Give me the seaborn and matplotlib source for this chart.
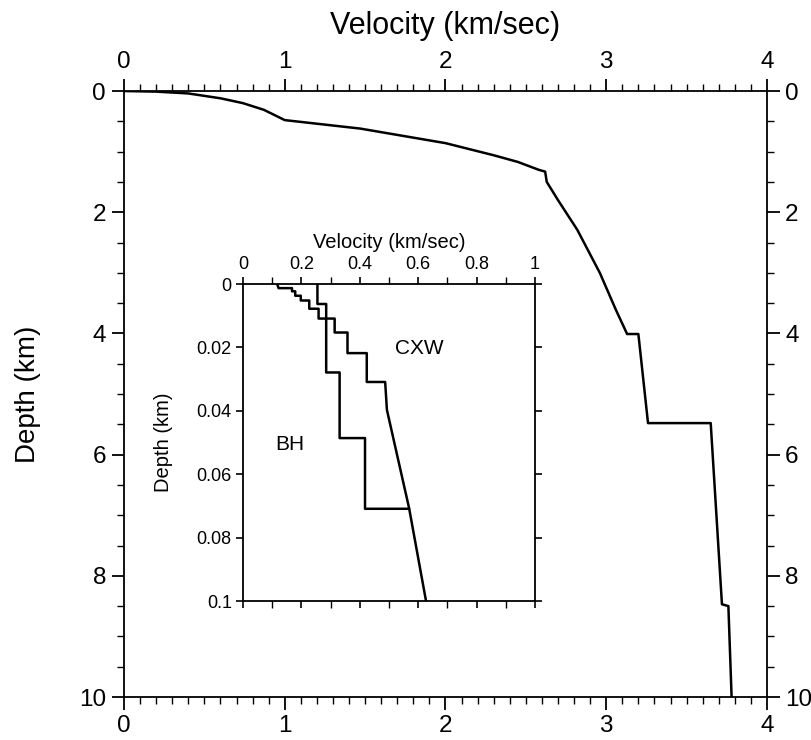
import numpy as np
import pandas as pd
import matplotlib
matplotlib.use("Agg")
import matplotlib.pyplot as plt
from matplotlib.ticker import MultipleLocator
import seaborn as sns

# main velocity profile (km/sec vs km)
main_vel = [0, 0.2, 0.4, 0.6, 0.74, 0.87, 1.0, 1.47, 2.0, 2.3, 2.45, 2.58,
            2.62, 2.63, 2.7, 2.82, 2.96, 3.06, 3.13, 3.20, 3.26, 3.65, 3.72,
            3.76, 3.78]
main_depth = [0, 0.01, 0.04, 0.12, 0.2, 0.31, 0.48, 0.62, 0.86, 1.06, 1.17,
              1.3, 1.33, 1.5, 1.8, 2.29, 3.0, 3.61, 4.01, 4.01, 5.48, 5.48,
              8.47, 8.5, 10.0]

# inset: shallow profiles
cxw_vel = [0.255, 0.255, 0.285, 0.285, 0.314, 0.314, 0.358, 0.358, 0.424,
           0.424, 0.487, 0.493, 0.569, 0.627]
cxw_depth = [0.0, 0.0063, 0.0063, 0.0109, 0.0109, 0.0153, 0.0153, 0.0218,
             0.0218, 0.0309, 0.0309, 0.0397, 0.0707, 0.1]
bh_vel = [0.117, 0.122, 0.168, 0.168, 0.179, 0.179, 0.198, 0.198, 0.227,
          0.227, 0.259, 0.259, 0.285, 0.285, 0.331, 0.331, 0.418, 0.418, 0.569]
bh_depth = [0.0, 0.0013, 0.0013, 0.0023, 0.0023, 0.0037, 0.0037, 0.0052,
            0.0052, 0.0078, 0.0078, 0.0109, 0.0109, 0.0279, 0.0279, 0.0486,
            0.0486, 0.0709, 0.0709]

sns.set_theme(style="ticks", rc={"text.color": "black", "axes.labelcolor": "black",
                                 "xtick.color": "black", "ytick.color": "black",
                                 "axes.edgecolor": "black"})
plt.rcParams["font.family"] = ["Liberation Sans", "DejaVu Sans"]
plt.rcParams["axes.linewidth"] = 1.3

fig = plt.figure(figsize=(8.11, 7.40), dpi=100)
ax = fig.add_axes([0.1529, 0.0581, 0.7928, 0.8189])

sns.lineplot(x=main_vel, y=main_depth, sort=False, estimator=None,
             color="black", linewidth=1.8, ax=ax)
ax.set_xlim(0, 4)
ax.set_ylim(10, 0)
ax.xaxis.set_major_locator(MultipleLocator(1))
ax.xaxis.set_minor_locator(MultipleLocator(0.1))
ax.yaxis.set_major_locator(MultipleLocator(2))
ax.yaxis.set_minor_locator(MultipleLocator(0.5))
ax.tick_params(which="both", direction="out", top=True, right=True,
               labeltop=True, labelright=True, labelsize=17.5)
ax.tick_params(which="major", length=9, width=1.3, pad=4)
ax.tick_params(which="minor", length=5, width=1.0)
ax.set_xlabel("Velocity (km/sec)", fontsize=22, labelpad=12)
ax.xaxis.set_label_position("top")
ax.set_ylabel("Depth (km)", fontsize=20, labelpad=27)

# inset
axi = fig.add_axes([0.2996, 0.1878, 0.3600, 0.4284])
sns.lineplot(x=cxw_vel, y=cxw_depth, sort=False, estimator=None,
             color="black", linewidth=1.8, ax=axi)
sns.lineplot(x=bh_vel, y=bh_depth, sort=False, estimator=None,
             color="black", linewidth=1.8, ax=axi)
axi.set_xlim(0, 1)
axi.set_ylim(0.1, 0)
axi.xaxis.set_major_locator(MultipleLocator(0.2))
axi.xaxis.set_minor_locator(MultipleLocator(0.1))
axi.yaxis.set_major_locator(MultipleLocator(0.02))
axi.xaxis.set_major_formatter(plt.FuncFormatter(lambda v, p: f"{v:g}"))
axi.yaxis.set_major_formatter(plt.FuncFormatter(lambda v, p: f"{v:g}"))
axi.tick_params(which="both", direction="out", top=True, right=True,
                bottom=True, labeltop=True, labelbottom=False, labelsize=13)
axi.tick_params(which="major", length=5, width=1.2, pad=3)
axi.tick_params(which="minor", length=5, width=1.0)
axi.set_xlabel("Velocity (km/sec)", fontsize=14.5, labelpad=6)
axi.xaxis.set_label_position("top")
axi.set_ylabel("Depth (km)", fontsize=14.5, labelpad=17)
axi.text(0.52, 0.022, "CXW", fontsize=15)
axi.text(0.11, 0.0525, "BH", fontsize=15)

fig.savefig("out.png", dpi=100)
